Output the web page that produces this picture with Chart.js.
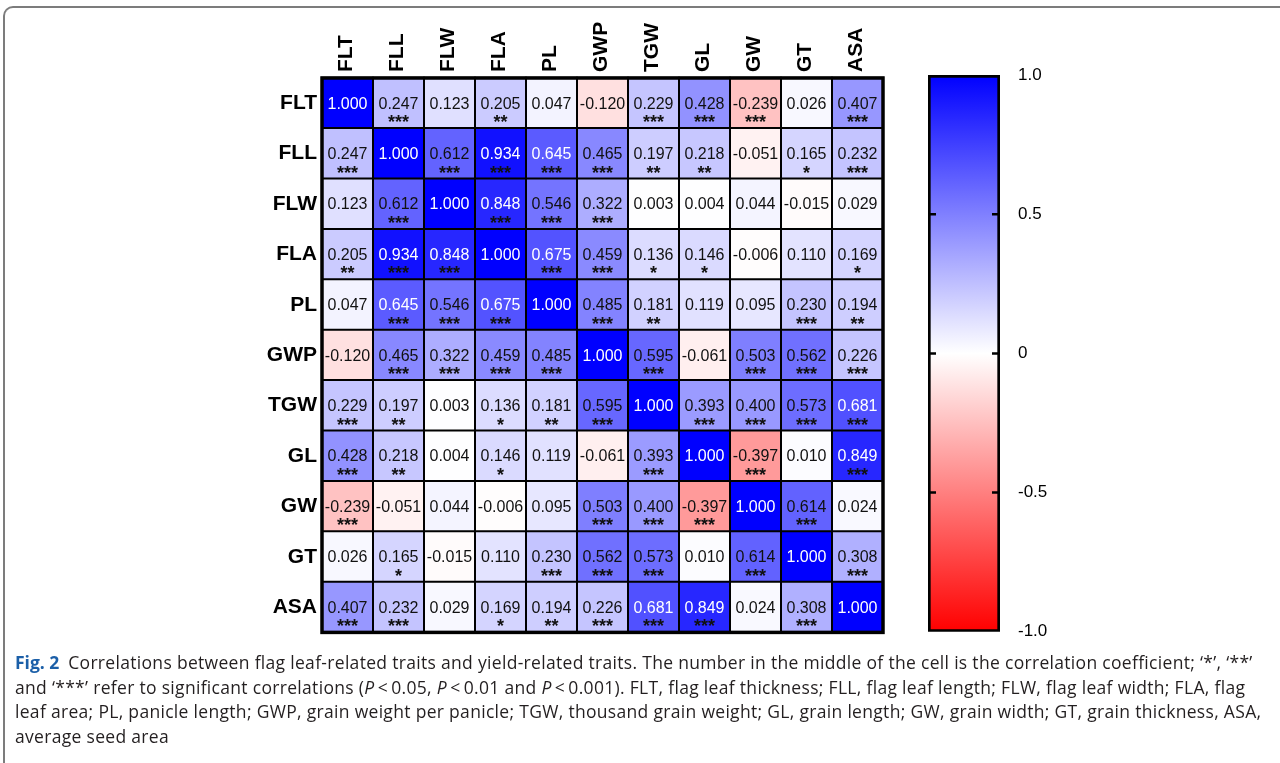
<!DOCTYPE html>
<html>
<head>
<meta charset="utf-8">
<script src="https://cdn.jsdelivr.net/npm/chart.js@4.4.1/dist/chart.umd.min.js"></script>
<style>
  html, body { margin: 0; padding: 0; background: #fff; width: 1280px; height: 763px; overflow: hidden; }
  #frame { position: absolute; left: 3px; top: 6px; width: 1277px; height: 757px;
           border-top: 2px solid #7c7c7c; border-left: 2px solid #7c7c7c; border-top-left-radius: 10px; }
  #heat { position: absolute; left: 0; top: 0; }
  #bar { position: absolute; left: 900px; top: 40px; }
  #caption { position: absolute; left: 15px; top: 650px; font-family: "Open Sans", sans-serif; font-size: 17.5px;
             letter-spacing: 0.31px; line-height: 24.5px; color: #231f20; white-space: nowrap; }
  #caption .fig { color: #1b5fa8; font-weight: bold; letter-spacing: 0; margin-right: 4px; }
</style>
</head>
<body>
<div id="frame"></div>
<canvas id="heat" width="900" height="650"></canvas>
<canvas id="bar" width="180" height="620"></canvas>
<div id="caption"><span class="fig">Fig. 2</span> Correlations between flag leaf-related traits and yield-related traits. The number in the middle of the cell is the correlation coefficient; ‘*’, ‘**’<br>and ‘***’ refer to significant correlations (<i>P</i>&thinsp;&lt;&thinsp;0.05, <i>P</i>&thinsp;&lt;&thinsp;0.01 and <i>P</i>&thinsp;&lt;&thinsp;0.001). FLT, flag leaf thickness; FLL, flag leaf length; FLW, flag leaf width; FLA, flag<br>leaf area; PL, panicle length; GWP, grain weight per panicle; TGW, thousand grain weight; GL, grain length; GW, grain width; GT, grain thickness, ASA,<br>average seed area</div>
<script>
// ---- Data ----
const traits = ["FLT", "FLL", "FLW", "FLA", "PL", "GWP", "TGW", "GL", "GW", "GT", "ASA"];

// correlation coefficients, row by row (same order as traits)
const corr = [
  [1.000, 0.247, 0.123, 0.205, 0.047, -0.120, 0.229, 0.428, -0.239, 0.026, 0.407],
  [0.247, 1.000, 0.612, 0.934, 0.645, 0.465, 0.197, 0.218, -0.051, 0.165, 0.232],
  [0.123, 0.612, 1.000, 0.848, 0.546, 0.322, 0.003, 0.004, 0.044, -0.015, 0.029],
  [0.205, 0.934, 0.848, 1.000, 0.675, 0.459, 0.136, 0.146, -0.006, 0.110, 0.169],
  [0.047, 0.645, 0.546, 0.675, 1.000, 0.485, 0.181, 0.119, 0.095, 0.230, 0.194],
  [-0.120, 0.465, 0.322, 0.459, 0.485, 1.000, 0.595, -0.061, 0.503, 0.562, 0.226],
  [0.229, 0.197, 0.003, 0.136, 0.181, 0.595, 1.000, 0.393, 0.400, 0.573, 0.681],
  [0.428, 0.218, 0.004, 0.146, 0.119, -0.061, 0.393, 1.000, -0.397, 0.010, 0.849],
  [-0.239, -0.051, 0.044, -0.006, 0.095, 0.503, 0.400, -0.397, 1.000, 0.614, 0.024],
  [0.026, 0.165, -0.015, 0.110, 0.230, 0.562, 0.573, 0.010, 0.614, 1.000, 0.308],
  [0.407, 0.232, 0.029, 0.169, 0.194, 0.226, 0.681, 0.849, 0.024, 0.308, 1.000],
];

// significance marks
const stars = [
  ["", "***", "", "**", "", "", "***", "***", "***", "", "***"],
  ["***", "", "***", "***", "***", "***", "**", "**", "", "*", "***"],
  ["", "***", "", "***", "***", "***", "", "", "", "", ""],
  ["**", "***", "***", "", "***", "***", "*", "*", "", "", "*"],
  ["", "***", "***", "***", "", "***", "**", "", "", "***", "**"],
  ["", "***", "***", "***", "***", "", "***", "", "***", "***", "***"],
  ["***", "**", "", "*", "**", "***", "", "***", "***", "***", "***"],
  ["***", "**", "", "*", "", "", "***", "", "***", "", "***"],
  ["***", "", "", "", "", "***", "***", "***", "", "***", ""],
  ["", "*", "", "", "***", "***", "***", "", "***", "", "***"],
  ["***", "***", "", "*", "**", "***", "***", "***", "", "***", ""],
];

const scaleRange = [-1, 1];
const scaleTicks = [1, 0.5, 0, -0.5, -1];

Chart.defaults.font.family = '"Liberation Sans", Arial, sans-serif';
Chart.defaults.color = "#000";

function corrColor(v) {
  const t = Math.round(255 * (1 - Math.abs(v)));
  return v >= 0 ? `rgb(${t},${t},255)` : `rgb(255,${t},${t})`;
}

const cells = [];
traits.forEach((rowName, r) => {
  traits.forEach((colName, c) => {
    cells.push({ x: colName, y: rowName, v: corr[r][c], s: stars[r][c] });
  });
});

// ---- Heatmap ----
function cellRadius(ctx) {
  const xs = ctx.chart.scales.x;
  const w = Math.abs(xs.getPixelForValue(1) - xs.getPixelForValue(0));
  return w / Math.SQRT2; // rect point style draws half-side = radius / sqrt2
}

const cellText = {
  id: "cellText",
  afterDatasetsDraw(chart) {
    const { ctx, chartArea } = chart;
    const meta = chart.getDatasetMeta(0);
    ctx.save();
    ctx.textAlign = "center";
    meta.data.forEach((pt, i) => {
      const d = cells[i];
      ctx.font = '16px "Liberation Sans", Arial';
      ctx.textBaseline = "middle";
      ctx.fillStyle = d.v > 0.64 ? "#fff" : "#111";
      ctx.fillText(d.v.toFixed(3), pt.x, pt.y + 1);
      if (d.s) {
        ctx.font = 'bold 18px "Liberation Sans", Arial';
        ctx.textBaseline = "alphabetic";
        ctx.fillStyle = "#111";
        ctx.fillText(d.s, pt.x, pt.y + 25);
      }
    });
    ctx.lineWidth = 3.5;
    ctx.strokeStyle = "#000";
    ctx.strokeRect(chartArea.left, chartArea.top, chartArea.width, chartArea.height);
    ctx.restore();
  },
};

new Chart(document.getElementById("heat"), {
  type: "scatter",
  data: {
    datasets: [{
      data: cells,
      backgroundColor: cells.map((d) => corrColor(d.v)),
      borderColor: "#000",
      borderWidth: 2,
      pointStyle: "rect",
      pointRadius: cellRadius,
    }],
  },
  options: {
    responsive: false,
    animation: false,
    events: [],
    layout: { padding: { left: 0, top: 0, right: 17, bottom: 14 } },
    plugins: { legend: { display: false }, tooltip: { enabled: false } },
    scales: {
      x: {
        type: "category",
        labels: traits,
        position: "top",
        offset: true,
        grid: { display: false, drawTicks: false },
        border: { display: false },
        ticks: { minRotation: 90, maxRotation: 90, padding: 6, labelOffset: 24, font: { size: 21, weight: "bold" } },
        afterFit: (s) => { s.height = 78; },
      },
      y: {
        type: "category",
        labels: traits,
        offset: true,
        grid: { display: false, drawTicks: false },
        border: { display: false },
        ticks: { padding: 5, font: { size: 21, weight: "bold" } },
        afterFit: (s) => { s.width = 322; },
      },
    },
  },
  plugins: [cellText],
});

// ---- Colour bar ----
const innerTicks = {
  id: "innerTicks",
  afterDatasetsDraw(chart) {
    const { ctx, chartArea: a, scales: { y } } = chart;
    ctx.save();
    ctx.strokeStyle = "#000";
    ctx.lineWidth = 2.5;
    scaleTicks.slice(1, -1).forEach((v) => {
      const py = y.getPixelForValue(v);
      ctx.beginPath();
      ctx.moveTo(a.left, py); ctx.lineTo(a.left + 8, py);
      ctx.moveTo(a.right, py); ctx.lineTo(a.right - 8, py);
      ctx.stroke();
    });
    ctx.restore();
  },
};

new Chart(document.getElementById("bar"), {
  type: "bar",
  data: {
    labels: [""],
    datasets: [{
      data: [scaleRange],
      backgroundColor: (ctx) => {
        const area = ctx.chart.chartArea;
        if (!area) return "#fff";
        const g = ctx.chart.ctx.createLinearGradient(0, area.bottom, 0, area.top);
        g.addColorStop(0, "rgb(255,0,0)");
        g.addColorStop(0.5, "rgb(255,255,255)");
        g.addColorStop(1, "rgb(0,0,255)");
        return g;
      },
      borderColor: "#000",
      borderWidth: 3,
      borderSkipped: false,
      barPercentage: 1,
      categoryPercentage: 1,
    }],
  },
  options: {
    responsive: false,
    animation: false,
    events: [],
    layout: { padding: { left: 28, top: 35, right: 0, bottom: 24 } },
    plugins: { legend: { display: false }, tooltip: { enabled: false } },
    scales: {
      x: { display: false },
      y: {
        position: "right",
        min: scaleRange[0],
        max: scaleRange[1],
        grid: { display: false, drawTicks: false },
        border: { display: false },
        afterBuildTicks: (s) => { s.ticks = scaleTicks.map((v) => ({ value: v })); },
        ticks: { padding: 18, font: { size: 17 }, callback: (v) => (v === 0 ? "0" : v.toFixed(1)) },
        afterFit: (s) => { s.width = 80; },
      },
    },
  },
  plugins: [innerTicks],
});
</script>
</body>
</html>
